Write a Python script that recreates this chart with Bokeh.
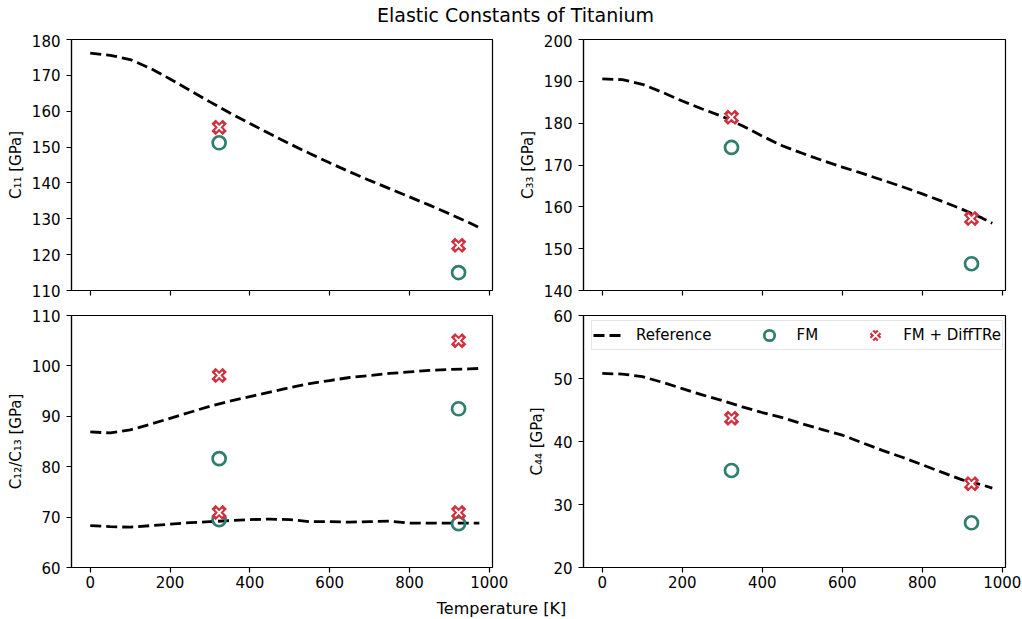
from bokeh.plotting import figure
from bokeh.models import Range1d, FixedTicker, Legend, LegendItem
from bokeh.layouts import column, row
from bokeh.embed import file_html
from bokeh.resources import INLINE
from bokeh.core.properties import value

# ---------------- data ----------------
T_ref = [0, 50, 100, 150, 200, 250, 300, 350, 400, 450, 500,
         550, 600, 650, 700, 750, 800, 850, 900, 950, 975]
C11_ref = [176.2, 175.6, 174.4, 172.0, 169.0, 165.8, 162.6, 159.5, 156.6, 153.7, 150.9,
           148.2, 145.6, 143.1, 140.7, 138.4, 136.1, 133.8, 131.4, 128.9, 127.5]
C33_ref = [190.6, 190.4, 189.3, 187.4, 185.3, 183.4, 181.6, 179.4, 176.9, 174.6, 172.8,
           171.1, 169.5, 168.0, 166.4, 164.8, 163.1, 161.3, 159.4, 157.3, 156.1]
C12_ref = [86.9, 86.7, 87.3, 88.4, 89.6, 90.8, 92.0, 93.0, 93.9, 94.8, 95.7,
           96.5, 97.1, 97.7, 98.1, 98.5, 98.8, 99.1, 99.3, 99.4, 99.5]
C13_ref = [68.3, 68.1, 68.0, 68.3, 68.6, 68.9, 69.1, 69.3, 69.5, 69.6, 69.5,
           69.1, 69.1, 69.0, 69.1, 69.2, 68.8, 68.8, 68.8, 68.8, 68.8]
C44_ref = [50.8, 50.7, 50.3, 49.4, 48.4, 47.4, 46.5, 45.5, 44.6, 43.8, 42.8,
           41.9, 41.0, 39.8, 38.6, 37.5, 36.3, 35.1, 33.9, 33.1, 32.6]

T_sim = [323, 923]
C11_fm = [151.2, 115.0]
C33_fm = [174.2, 146.4]
C12_fm = [81.6, 91.5]
C13_fm = [69.5, 68.7]
C44_fm = [35.4, 27.1]
C11_dt = [155.5, 122.6]
C33_dt = [181.4, 157.2]
C12_dt = [98.1, 105.0]
C13_dt = [70.9, 70.9]
C44_dt = [43.7, 33.3]

x_ticks = [0, 200, 400, 600, 800, 1000]

FONT = "DejaVu Sans"
TEAL = "#2e7f6e"
RED = "#d1313e"
TICK_FS = "15px"


def make_fig(yr, yticks, ylabel, left, right, top, bottom, fw, fh, xlabels, lab_standoff):
    p = figure(frame_width=fw, frame_height=fh, title=None,
               x_range=Range1d(-47, 1008), y_range=Range1d(*yr),
               toolbar_location=None, output_backend="svg",
               min_border_left=left, min_border_right=right,
               min_border_top=top, min_border_bottom=bottom)
    p.grid.visible = False
    p.outline_line_color = "black"
    p.outline_line_width = 1.2
    p.outline_line_alpha = 1.0
    p.background_fill_color = "white"
    p.border_fill_color = "white"
    p.xaxis.ticker = FixedTicker(ticks=x_ticks)
    p.yaxis.ticker = FixedTicker(ticks=yticks)
    for ax in (p.xaxis[0], p.yaxis[0]):
        ax.axis_line_color = "black"
        ax.axis_line_width = 1.2
        ax.major_tick_line_color = "black"
        ax.major_tick_line_width = 1.2
        ax.major_tick_out = 5
        ax.major_tick_in = 0
        ax.minor_tick_out = 0
        ax.minor_tick_in = 0
        ax.major_label_text_font = FONT
        ax.major_label_text_font_size = TICK_FS
        ax.major_label_text_color = "black"
    p.yaxis.major_label_standoff = 6
    p.xaxis.major_label_standoff = 3
    if not xlabels:
        p.xaxis.major_label_text_color = None
        p.xaxis.major_label_text_font_size = "1px"
        p.xaxis.major_label_standoff = 0
    p.yaxis.axis_label = ylabel
    p.yaxis.axis_label_text_font = FONT
    p.yaxis.axis_label_text_font_size = "15px"
    p.yaxis.axis_label_text_font_style = "normal"
    p.yaxis.axis_label_text_color = "black"
    p.yaxis.axis_label_standoff = lab_standoff
    return p


def add_series(p, ref_list, fm, dt):
    rl = []
    for r in ref_list:
        rl.append(p.line(T_ref, r, line_color="black", line_width=2.8, line_dash="11 5"))
    rc = []
    for f in fm:
        rc.append(p.scatter(T_sim, f, marker="circle", size=13, fill_color=None,
                            line_color=TEAL, line_width=2.7))
    rx = []
    for d in dt:
        a = p.scatter(T_sim, d, marker="x", size=16, line_color=RED, line_width=6)
        b = p.scatter(T_sim, d, marker="x", size=10, line_color="white", line_width=1.8)
        rx.append((a, b))
    return rl, rc, rx


# title strip
p_title = figure(width=1022, height=34, title=None, x_range=Range1d(0, 1022), y_range=Range1d(0, 34),
                 x_axis_type=None, y_axis_type=None, toolbar_location=None, output_backend="svg",
                 min_border=0, outline_line_color=None)
p_title.grid.visible = False
p_title.text(x=[515], y=[20], text=["Elastic Constants of Titanium"], text_font=value(FONT),
             text_font_size="19px", text_align="center", text_baseline="middle", text_color="black")

p11 = make_fig((110, 180), list(range(110, 181, 10)), "C₁₁ [GPa]", 71, 17, 5, 12, 421, 251, False, 4)
add_series(p11, [C11_ref], [C11_fm], [C11_dt])

p33 = make_fig((140, 200), list(range(140, 201, 10)), "C₃₃ [GPa]", 74, 17, 5, 12, 422, 251, False, 4)
add_series(p33, [C33_ref], [C33_fm], [C33_dt])

p12 = make_fig((60, 110), list(range(60, 111, 10)), "C₁₂/C₁₃ [GPa]", 71, 17, 13, 28, 421, 252, True, 4)
add_series(p12, [C12_ref, C13_ref], [C12_fm, C13_fm], [C12_dt, C13_dt])

p44 = make_fig((20, 60), list(range(20, 61, 10)), "C₄₄ [GPa]", 74, 17, 13, 28, 422, 252, True, 4)
rl, rc, rx = add_series(p44, [C44_ref], [C44_fm], [C44_dt])

legend = Legend(items=[LegendItem(label="Reference", renderers=[rl[0]]),
                       LegendItem(label="FM", renderers=[rc[0]]),
                       LegendItem(label="FM + DiffTRe", renderers=list(rx[0]))],
                orientation="horizontal", location=(8, 217))
legend.label_text_font = FONT
legend.label_text_font_size = "15px"
legend.label_text_color = "black"
legend.glyph_width = 30
legend.glyph_height = 26
legend.label_height = 16
legend.label_standoff = 13
legend.spacing = 42
legend.padding = 1
legend.margin = 0
legend.border_line_color = "#cccccc"
legend.border_line_width = 1
legend.background_fill_alpha = 0.8
p44.add_layout(legend)

# x label strip
p_xl = figure(width=1022, height=24, title=None, x_range=Range1d(0, 1022), y_range=Range1d(0, 24),
              x_axis_type=None, y_axis_type=None, toolbar_location=None, output_backend="svg",
              min_border=0, outline_line_color=None)
p_xl.grid.visible = False
p_xl.text(x=[501], y=[11], text=["Temperature [K]"], text_font=value(FONT),
          text_font_size="16px", text_align="center", text_baseline="middle", text_color="black")

layout = column(p_title, row(p11, p33), row(p12, p44), p_xl)

open("out.html", "w").write(file_html(layout, INLINE))
